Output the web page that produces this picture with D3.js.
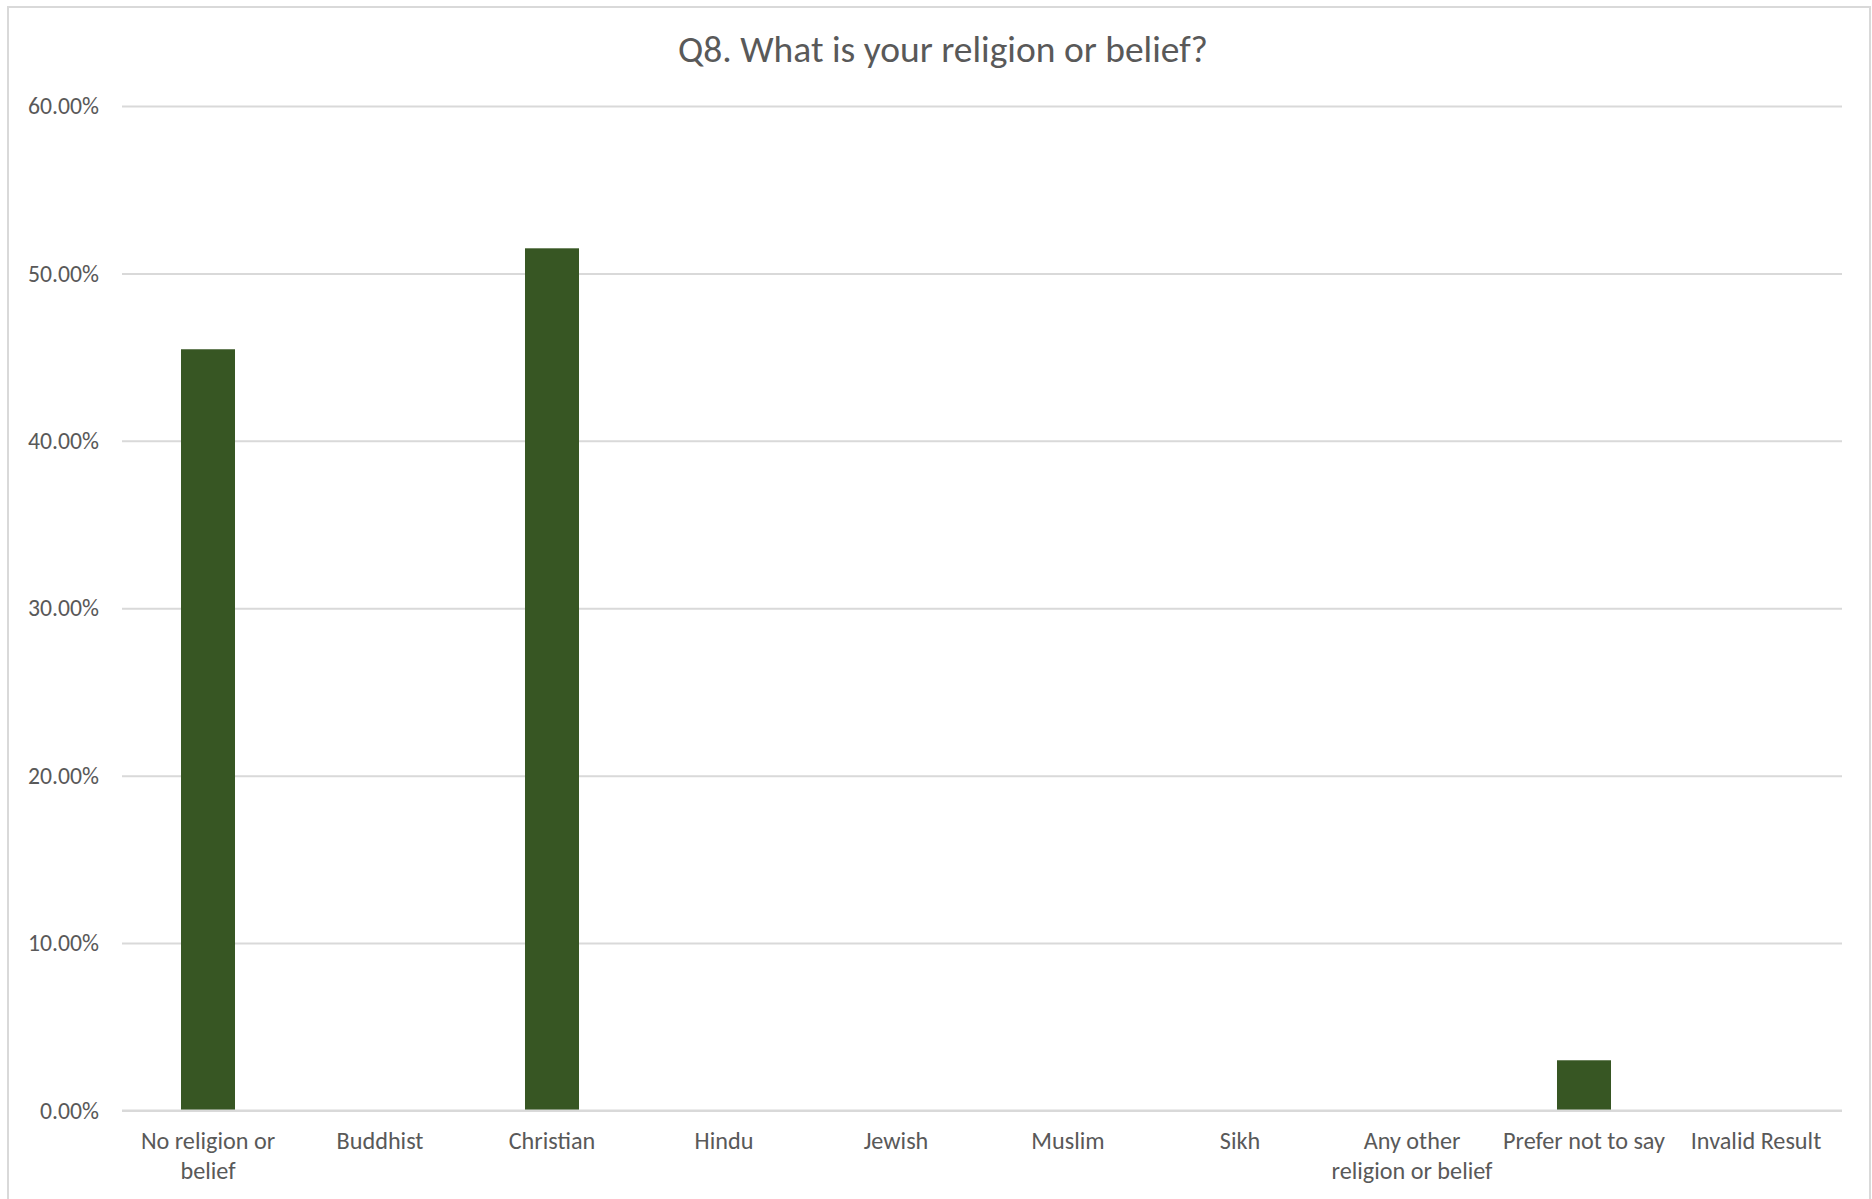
<!DOCTYPE html>
<html>
<head>
<meta charset="utf-8">
<script src="https://cdn.jsdelivr.net/npm/d3@7"></script>
<style>
  html, body { margin: 0; padding: 0; background: #fff; }
  svg { display: block; }
  text { font-family: Carlito, Calibri, Lato, "Open Sans", sans-serif; fill: #595959; }
</style>
</head>
<body>
<svg id="chart" width="1872" height="1199"></svg>
<script>
const chartTitle = "Q8. What is your religion or belief?";
const categories = ["No religion or belief", "Buddhist", "Christian", "Hindu", "Jewish", "Muslim", "Sikh", "Any other religion or belief", "Prefer not to say", "Invalid Result"];
const categoryLabelLines = [["No religion or", "belief"], ["Buddhist"], ["Christian"], ["Hindu"], ["Jewish"], ["Muslim"], ["Sikh"], ["Any other", "religion or belief"], ["Prefer not to say"], ["Invalid Result"]];
const values = [0.4547, 0, 0.5150, 0, 0, 0, 0, 0, 0.030, 0];
const yTicks = [0, 0.1, 0.2, 0.3, 0.4, 0.5, 0.6];

const W = 1872, H = 1199;
const margin = { left: 122, right: 30, top: 106, bottom: 88.5 };
const svg = d3.select("#chart");

// chart border
svg.append("rect")
  .attr("x", 8).attr("y", 7)
  .attr("width", 1862).attr("height", 1210)
  .attr("fill", "#fff").attr("stroke", "#d9d9d9").attr("stroke-width", 2);

const x = d3.scaleBand().domain(categories)
  .range([margin.left, W - margin.right])
  .paddingInner(0.686).paddingOuter(0.343);
const y = d3.scaleLinear().domain([0, 0.6]).range([H - margin.bottom, margin.top]);

// font fitting helper
function fitSize(sample, base, target) {
  const t = svg.append("text").attr("font-size", base).text(sample);
  const w = t.node().getComputedTextLength();
  t.remove();
  return w > 0 ? base * target / w : base;
}
const labelSize = fitSize("Prefer not to say", 24, 162);
const tickSize = fitSize("60.00%", 24, 71);
const titleSize = fitSize(chartTitle, 34, 530);

// gridlines + y axis
const yAxis = d3.axisLeft(y).tickValues(yTicks).tickFormat(d3.format(".2%"))
  .tickSize(-(W - margin.left - margin.right)).tickPadding(23);
const gy = svg.append("g").attr("transform", `translate(${margin.left},0)`).call(yAxis);
gy.select(".domain").remove();
gy.selectAll(".tick line").attr("stroke", "#d9d9d9").attr("stroke-width", 2);
gy.selectAll(".tick text").attr("font-size", tickSize).attr("fill", "#595959")
  .style("font-family", "Carlito, Calibri, Lato, 'Open Sans', sans-serif");

// bars
svg.append("g").selectAll("rect").data(categories).join("rect")
  .attr("x", d => x(d))
  .attr("width", x.bandwidth())
  .attr("y", (d, i) => y(values[i]))
  .attr("height", (d, i) => y(0) - y(values[i]))
  .attr("fill", "#375623");

// baseline redraw on top
svg.append("line")
  .attr("x1", margin.left).attr("x2", W - margin.right)
  .attr("y1", y(0)).attr("y2", y(0))
  .attr("stroke", "#d9d9d9").attr("stroke-width", 2);

// x axis labels
const xAxis = d3.axisBottom(x).tickSize(0).tickFormat("");
const gx = svg.append("g").attr("transform", `translate(0,${y(0)})`).call(xAxis);
gx.select(".domain").remove();
gx.selectAll(".tick").each(function(d, i) {
  const t = d3.select(this).append("text")
    .attr("text-anchor", "middle")
    .attr("font-size", labelSize)
    .attr("fill", "#595959");
  categoryLabelLines[i].forEach((line, j) => {
    t.append("tspan").attr("x", 0).attr("y", 38.5 + j * 30).text(line);
  });
});

// title
svg.append("text")
  .attr("x", 943).attr("y", 62)
  .attr("text-anchor", "middle")
  .attr("font-size", titleSize)
  .text(chartTitle);
</script>
</body>
</html>
